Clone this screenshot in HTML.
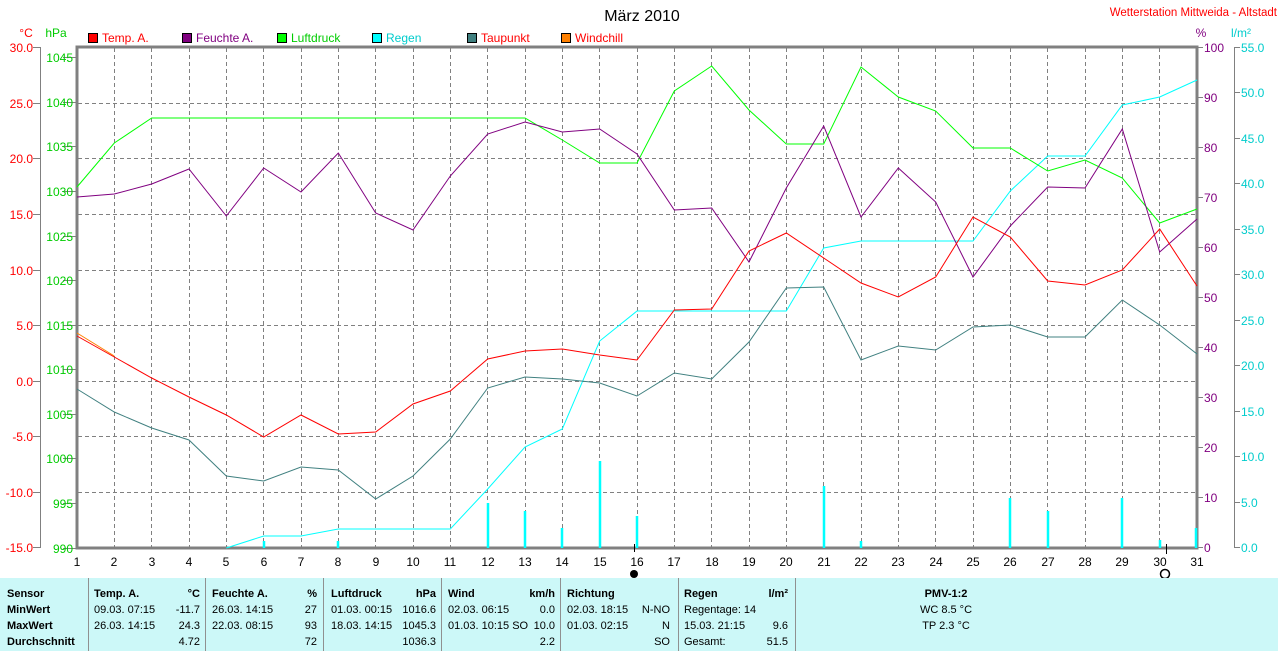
<!DOCTYPE html>
<html><head><meta charset="utf-8"><style>
body{margin:0;background:#fff;width:1280px;height:651px;overflow:hidden;font-family:"Liberation Sans",sans-serif}
svg{position:absolute;left:0;top:0}
text{font-family:"Liberation Sans",sans-serif}
</style></head><body>
<svg width="1280" height="651" viewBox="0 0 1280 651" font-size="12">
<rect x="0" y="0" width="1280" height="651" fill="#fff"/>
<text x="642" y="21" font-size="16" text-anchor="middle" fill="#000">März 2010</text>
<text x="1277" y="16" font-size="11.5" text-anchor="end" fill="#f00">Wetterstation Mittweida - Altstadt</text>
<text x="26" y="37" text-anchor="middle" fill="#f00">°C</text>
<text x="56" y="37" text-anchor="middle" fill="#0c0">hPa</text>
<text x="1201" y="37" text-anchor="middle" fill="#800080">%</text>
<text x="1241" y="37" text-anchor="middle" fill="#0cc">l/m²</text>
<g font-size="12">
<rect x="88.5" y="33.5" width="9" height="9" fill="#f00" stroke="#000"/><text x="102" y="42" fill="#f00">Temp. A.</text>
<rect x="182.5" y="33.5" width="9" height="9" fill="#800080" stroke="#000"/><text x="196" y="42" fill="#800080">Feuchte A.</text>
<rect x="277.5" y="33.5" width="9" height="9" fill="#0f0" stroke="#000"/><text x="291" y="42" fill="#0c0">Luftdruck</text>
<rect x="372.5" y="33.5" width="9" height="9" fill="#0ff" stroke="#000"/><text x="386" y="42" fill="#0cc">Regen</text>
<rect x="467.5" y="33.5" width="9" height="9" fill="#408080" stroke="#000"/><text x="481" y="42" fill="#f00">Taupunkt</text>
<rect x="561.5" y="33.5" width="9" height="9" fill="#ff8000" stroke="#000"/><text x="575" y="42" fill="#f00">Windchill</text>
</g>
<g stroke="#808080" stroke-width="1" stroke-dasharray="4,3">
<path d="M114.5 48V547M151.5 48V547M189.5 48V547M226.5 48V547M263.5 48V547M301.5 48V547M338.5 48V547M375.5 48V547M413.5 48V547M450.5 48V547M487.5 48V547M525.5 48V547M562.5 48V547M599.5 48V547M637.5 48V547M674.5 48V547M711.5 48V547M749.5 48V547M786.5 48V547M823.5 48V547M861.5 48V547M898.5 48V547M935.5 48V547M973.5 48V547M1010.5 48V547M1047.5 48V547M1085.5 48V547M1122.5 48V547M1159.5 48V547"/>
<path d="M78 103.5H1196M78 158.5H1196M78 214.5H1196M78 270.5H1196M78 325.5H1196M78 381.5H1196M78 436.5H1196M78 492.5H1196"/>
</g>
<g stroke="#808080" fill="none">
<rect x="77" y="47" width="1120" height="501" stroke-width="3"/>
<path d="M40.5 47V548M1234.5 47V548" stroke-width="1"/>
<path d="M33 47.5H40M33 103.5H40M33 158.5H40M33 214.5H40M33 270.5H40M33 325.5H40M33 381.5H40M33 436.5H40M33 492.5H40M33 547.5H40"/>
<path d="M63 57.5H77M63 102.5H77M63 146.5H77M63 191.5H77M63 236.5H77M63 280.5H77M63 325.5H77M63 369.5H77M63 414.5H77M63 458.5H77M63 503.5H77M63 548.5H77"/>
<path d="M1197 47.5H1203M1197 97.5H1203M1197 147.5H1203M1197 197.5H1203M1197 247.5H1203M1197 297.5H1203M1197 347.5H1203M1197 397.5H1203M1197 447.5H1203M1197 497.5H1203M1197 547.5H1203"/>
<path d="M1234 47.5H1240M1234 92.5H1240M1234 138.5H1240M1234 183.5H1240M1234 229.5H1240M1234 274.5H1240M1234 320.5H1240M1234 365.5H1240M1234 411.5H1240M1234 456.5H1240M1234 502.5H1240M1234 547.5H1240"/>
</g>
<g fill="#f00" text-anchor="end" font-size="12">
<text x="33" y="52">30.0</text><text x="33" y="108">25.0</text><text x="33" y="163">20.0</text><text x="33" y="219">15.0</text><text x="33" y="275">10.0</text><text x="33" y="330">5.0</text><text x="33" y="386">0.0</text><text x="33" y="441">-5.0</text><text x="33" y="497">-10.0</text><text x="33" y="552">-15.0</text>
</g>
<g fill="#0c0" text-anchor="end" font-size="12">
<text x="73" y="62">1045</text><text x="73" y="107">1040</text><text x="73" y="151">1035</text><text x="73" y="196">1030</text><text x="73" y="241">1025</text><text x="73" y="285">1020</text><text x="73" y="330">1015</text><text x="73" y="374">1010</text><text x="73" y="419">1005</text><text x="73" y="463">1000</text><text x="73" y="508">995</text><text x="73" y="553">990</text>
</g>
<g fill="#800080" font-size="12">
<text x="1204" y="52">100</text><text x="1204" y="102">90</text><text x="1204" y="152">80</text><text x="1204" y="202">70</text><text x="1204" y="252">60</text><text x="1204" y="302">50</text><text x="1204" y="352">40</text><text x="1204" y="402">30</text><text x="1204" y="452">20</text><text x="1204" y="502">10</text><text x="1204" y="552">0</text>
</g>
<g fill="#0cc" font-size="12">
<text x="1241" y="52">55.0</text><text x="1241" y="97">50.0</text><text x="1241" y="143">45.0</text><text x="1241" y="188">40.0</text><text x="1241" y="234">35.0</text><text x="1241" y="279">30.0</text><text x="1241" y="325">25.0</text><text x="1241" y="370">20.0</text><text x="1241" y="416">15.0</text><text x="1241" y="461">10.0</text><text x="1241" y="507">5.0</text><text x="1241" y="552">0.0</text>
</g>
<g fill="#000" text-anchor="middle" font-size="12">
<text x="77" y="566">1</text><text x="114" y="566">2</text><text x="152" y="566">3</text><text x="189" y="566">4</text><text x="226" y="566">5</text><text x="264" y="566">6</text><text x="301" y="566">7</text><text x="338" y="566">8</text><text x="376" y="566">9</text><text x="413" y="566">10</text><text x="450" y="566">11</text><text x="488" y="566">12</text><text x="525" y="566">13</text><text x="562" y="566">14</text><text x="600" y="566">15</text><text x="637" y="566">16</text><text x="674" y="566">17</text><text x="712" y="566">18</text><text x="749" y="566">19</text><text x="786" y="566">20</text><text x="824" y="566">21</text><text x="861" y="566">22</text><text x="898" y="566">23</text><text x="936" y="566">24</text><text x="973" y="566">25</text><text x="1010" y="566">26</text><text x="1048" y="566">27</text><text x="1085" y="566">28</text><text x="1122" y="566">29</text><text x="1160" y="566">30</text><text x="1197" y="566">31</text>
</g>
<circle cx="634" cy="574" r="4" fill="#000"/>
<ellipse cx="1165" cy="574" rx="4.5" ry="4.5" fill="none" stroke="#000" stroke-width="1.5"/>
<path d="M634.5 544V552M1166.5 544V554" stroke="#000"/>
<g stroke="#0ff" stroke-width="2.5">
<path d="M264 548V541M338 548V541M488 548V503M525 548V511M562 548V528M600 548V461M637 548V516M824 548V486M861 548V541M1010 548V498M1048 548V511M1122 548V498M1160 548V540M1196 548V528"/>
</g>
<g fill="none" stroke-width="1">
<polyline stroke="#0ff" points="226.3,548 263.7,536 301,536 338.3,529 375.7,529 413,529 450.3,529 487.7,489 525,447 562.3,429 599.7,341 637,311 674.3,311 711.7,311 749,311 786.3,311 823.7,248 861,241 898.3,241 935.7,241 973,241 1010.3,191 1047.7,156 1085,156 1122.3,105 1159.7,97 1197,80"/>
<polyline stroke="#0f0" points="77,187 114.3,143 151.7,118 189,118 226.3,118 263.7,118 301,118 338.3,118 375.7,118 413,118 450.3,118 487.7,118 525,118 562.3,140 599.7,163 637,163 674.3,91 711.7,66 749,110 786.3,144 823.7,144 861,67 898.3,97 935.7,111 973,148 1010.3,148 1047.7,171 1085,160 1122.3,178 1159.7,223 1197,209"/>
<polyline stroke="#408080" points="77,389 114.3,412 151.7,428 189,440 226.3,476 263.7,481 301,467 338.3,470 375.7,499 413,476 450.3,439 487.7,388 525,377 562.3,379 599.7,383 637,396 674.3,373 711.7,379 749,342 786.3,288 823.7,287 861,360 898.3,346 935.7,350 973,327 1010.3,325 1047.7,337 1085,337 1122.3,300 1159.7,325 1197,354"/>
<polyline stroke="#800080" points="77,197 114.3,194 151.7,184 189,169 226.3,216 263.7,168 301,192 338.3,153 375.7,213 413,230 450.3,176 487.7,134 525,122 562.3,132 599.7,129 637,154 674.3,210 711.7,208 749,262 786.3,188 823.7,126 861,217 898.3,168 935.7,202 973,277 1010.3,226 1047.7,187 1085,188 1122.3,129 1159.7,252 1197,219"/>
<polyline stroke="#ff8000" points="77,333 114.3,356"/>
<polyline stroke="#f00" points="77,336 114.3,357 151.7,378 189,397 226.3,415 263.7,437 301,415 338.3,434 375.7,432 413,404 450.3,391 487.7,359 525,351 562.3,349 599.7,355 637,360 674.3,310 711.7,309 749,251 786.3,233 823.7,258 861,283 898.3,297 935.7,277 973,217 1010.3,237 1047.7,281 1085,285 1122.3,270 1159.7,229 1197,286"/>
</g>
<rect x="0" y="578" width="1278" height="73" fill="#ccf8f8"/>
<g stroke="#909090"><path d="M88.5 578V651M205.5 578V651M323.5 578V651M441.5 578V651M560.5 578V651M678.5 578V651M795.5 578V651"/></g>
<g font-size="11" fill="#000">
<g font-weight="bold"><text x="7" y="597">Sensor</text><text x="7" y="613">MinWert</text><text x="7" y="629">MaxWert</text><text x="7" y="645">Durchschnitt</text>
<text x="94" y="597">Temp. A.</text><text x="200" y="597" text-anchor="end">°C</text>
<text x="212" y="597">Feuchte A.</text><text x="317" y="597" text-anchor="end">%</text>
<text x="331" y="597">Luftdruck</text><text x="436" y="597" text-anchor="end">hPa</text>
<text x="448" y="597">Wind</text><text x="555" y="597" text-anchor="end">km/h</text>
<text x="567" y="597">Richtung</text>
<text x="684" y="597">Regen</text><text x="788" y="597" text-anchor="end">l/m²</text>
<text x="946" y="597" text-anchor="middle">PMV-1:2</text></g>
<text x="94" y="613">09.03.  07:15</text><text x="200" y="613" text-anchor="end">-11.7</text>
<text x="94" y="629">26.03.  14:15</text><text x="200" y="629" text-anchor="end">24.3</text>
<text x="200" y="645" text-anchor="end">4.72</text>
<text x="212" y="613">26.03.  14:15</text><text x="317" y="613" text-anchor="end">27</text>
<text x="212" y="629">22.03.  08:15</text><text x="317" y="629" text-anchor="end">93</text>
<text x="317" y="645" text-anchor="end">72</text>
<text x="331" y="613">01.03.  00:15</text><text x="436" y="613" text-anchor="end">1016.6</text>
<text x="331" y="629">18.03.  14:15</text><text x="436" y="629" text-anchor="end">1045.3</text>
<text x="436" y="645" text-anchor="end">1036.3</text>
<text x="448" y="613">02.03.  06:15</text><text x="555" y="613" text-anchor="end">0.0</text>
<text x="448" y="629">01.03.  10:15 SO</text><text x="555" y="629" text-anchor="end">10.0</text>
<text x="555" y="645" text-anchor="end">2.2</text>
<text x="567" y="613">02.03.  18:15</text><text x="670" y="613" text-anchor="end">N-NO</text>
<text x="567" y="629">01.03.  02:15</text><text x="670" y="629" text-anchor="end">N</text>
<text x="670" y="645" text-anchor="end">SO</text>
<text x="684" y="613">Regentage: 14</text>
<text x="684" y="629">15.03.  21:15</text><text x="788" y="629" text-anchor="end">9.6</text>
<text x="684" y="645">Gesamt:</text><text x="788" y="645" text-anchor="end">51.5</text>
<text x="946" y="613" text-anchor="middle">WC 8.5 °C</text>
<text x="946" y="629" text-anchor="middle">TP 2.3 °C</text>
</g>
</svg>
</body></html>
